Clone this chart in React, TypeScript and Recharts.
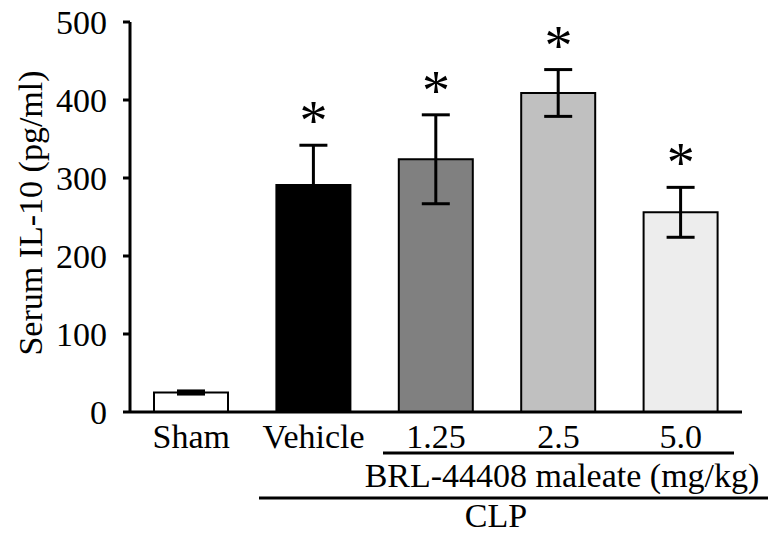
import React from 'react';
import { ComposedChart, Bar, Cell, XAxis, YAxis, ErrorBar, Scatter } from 'recharts';

const categories = ['Sham', 'Vehicle', '1.25', '2.5', '5.0'];
const means = [25, 291, 324, 409, 256];
const errors = [2, 51, 57, 30, 32];
const significant = [false, true, true, true, true];
const fills = ['#ffffff', '#000000', '#808080', '#c0c0c0', '#ededed'];
const yTicks = [0, 100, 200, 300, 400, 500];

const yLabel = 'Serum IL-10 (pg/ml)';
const doseLabel = 'BRL-44408 maleate (mg/kg)';
const groupLabel = 'CLP';

const FONT = '"Liberation Serif", "Times New Roman", Times, serif';

const data = categories.map((c, i) => ({
  name: c,
  value: means[i],
  err: errors[i],
  star: significant[i] ? means[i] + errors[i] : null,
}));

const StarShape = (props: any) => {
  const { cx, cy } = props;
  if (cx == null || cy == null || isNaN(cx) || isNaN(cy)) return null;
  return (
    <text x={cx} y={cy - 5} textAnchor="middle" fontSize={56} fontFamily={FONT} fill="#000">
      *
    </text>
  );
};

export default function App() {
  return (
    <div style={{ position: 'absolute', left: 0, top: 0, width: 768, height: 534, background: '#fff' }}>
      <ComposedChart
        width={768}
        height={534}
        data={data}
        margin={{ top: 22, right: 26, bottom: 92, left: 0 }}
      >
        <XAxis
          dataKey="name"
          height={30}
          tickLine={false}
          tickSize={0}
          tickMargin={12}
          axisLine={{ stroke: '#000', strokeWidth: 3 }}
          tick={{ fill: '#000', fontSize: 34, fontFamily: FONT }}
          interval={0}
        />
        <YAxis
          width={130}
          domain={[0, 500]}
          ticks={yTicks}
          tickSize={7}
          tickMargin={16}
          axisLine={{ stroke: '#000', strokeWidth: 3 }}
          tickLine={{ stroke: '#000', strokeWidth: 3 }}
          tick={{ fill: '#000', fontSize: 34, fontFamily: FONT }}
          interval={0}
        />
        <Bar dataKey="value" barSize={74} stroke="#000" strokeWidth={2} isAnimationActive={false}>
          {data.map((d, i) => (
            <Cell key={d.name} fill={fills[i]} />
          ))}
          <ErrorBar dataKey="err" width={14} stroke="#000" strokeWidth={3} direction="y" />
        </Bar>
        <Scatter dataKey="star" shape={<StarShape />} isAnimationActive={false} />
      </ComposedChart>
      <svg
        width={768}
        height={534}
        style={{ position: 'absolute', left: 0, top: 0, pointerEvents: 'none' }}
      >
        <text
          x={30}
          y={213}
          transform="rotate(-90 30 213)"
          textAnchor="middle"
          dominantBaseline="central"
          fontSize={34}
          fontFamily={FONT}
          fill="#000"
        >
          {yLabel}
        </text>
        <line x1={383} y1={453} x2={734} y2={453} stroke="#000" strokeWidth={3} />
        <text x={562} y={487} textAnchor="middle" fontSize={34} fontFamily={FONT} fill="#000">
          {doseLabel}
        </text>
        <line x1={259} y1={498} x2={768} y2={498} stroke="#000" strokeWidth={3} />
        <text x={496} y={527} textAnchor="middle" fontSize={34} fontFamily={FONT} fill="#000">
          {groupLabel}
        </text>
      </svg>
    </div>
  );
}
